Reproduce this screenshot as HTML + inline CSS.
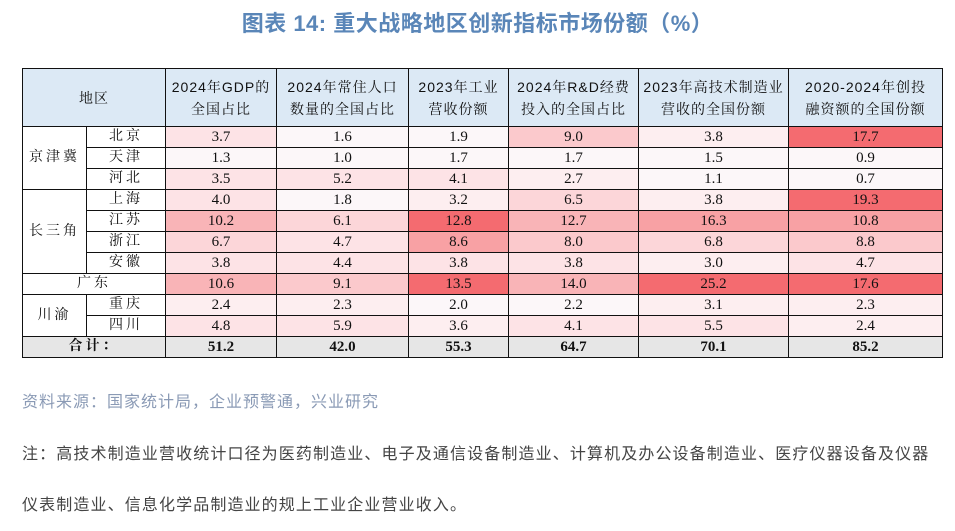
<!DOCTYPE html>
<html><head><meta charset="utf-8"><style>
body{margin:0;width:955px;height:531px;background:#fff;position:relative;overflow:hidden;font-family:"Liberation Sans","Noto Sans CJK SC",sans-serif}
.title{position:absolute;left:0;width:955px;top:6px;text-align:center;font-size:22px;font-weight:bold;color:#5a86b8;letter-spacing:0.5px}
table{position:absolute;left:22px;top:68px;border-collapse:collapse;table-layout:fixed;font-family:"Liberation Serif","Noto Serif CJK SC",serif;font-size:15px;color:#111}
td{border:1.5px solid #111;text-align:center;padding:0;height:20px;line-height:20px}
tr.h td{background:#dce9f5;height:57px;line-height:22px;font-size:14px;letter-spacing:1px;font-family:"Liberation Sans","Noto Serif CJK SC",serif}
tr.t td{background:#e6e6e6;font-weight:bold}
.W{background:#fcf7f9}.L1{background:#fdeef0}.L2{background:#fde3e6}.L3{background:#fcd6d9}.L4{background:#fbc9cc}.L5{background:#f9b4b7}.L6{background:#f8a1a4}.R{background:#f46b70}
.cn{font-size:14px;letter-spacing:3px;background:#fff}
.src{position:absolute;left:22px;top:388px;font-size:16px;letter-spacing:1px;color:#8a9ab5}
.note{position:absolute;left:22px;font-size:16px;letter-spacing:1.12px;color:#444;white-space:nowrap}
</style></head><body>
<div class="title">图表 14: 重大战略地区创新指标市场份额（%）</div>
<table>
<colgroup><col style="width:64px"><col style="width:79px"><col style="width:111px"><col style="width:132px"><col style="width:100px"><col style="width:130px"><col style="width:150px"><col style="width:154px"></colgroup>
<tr class="h"><td colspan="2">地区</td><td>2024年GDP的<br>全国占比</td><td>2024年常住人口<br>数量的全国占比</td><td>2023年工业<br>营收份额</td><td>2024年R&amp;D经费<br>投入的全国占比</td><td>2023年高技术制造业<br>营收的全国份额</td><td>2020-2024年创投<br>融资额的全国份额</td></tr>
<tr><td class="cn" rowspan="3">京津冀</td><td class="cn">北京</td><td class="L2">3.7</td><td class="W">1.6</td><td class="W">1.9</td><td class="L4">9.0</td><td class="L1">3.8</td><td class="R">17.7</td></tr>
<tr><td class="cn">天津</td><td class="W">1.3</td><td class="W">1.0</td><td class="W">1.7</td><td class="W">1.7</td><td class="W">1.5</td><td class="W">0.9</td></tr>
<tr><td class="cn">河北</td><td class="L2">3.5</td><td class="L2">5.2</td><td class="L2">4.1</td><td class="L1">2.7</td><td class="W">1.1</td><td class="W">0.7</td></tr>
<tr><td class="cn" rowspan="4">长三角</td><td class="cn">上海</td><td class="L2">4.0</td><td class="W">1.8</td><td class="L1">3.2</td><td class="L3">6.5</td><td class="L1">3.8</td><td class="R">19.3</td></tr>
<tr><td class="cn">江苏</td><td class="L5">10.2</td><td class="L3">6.1</td><td class="R">12.8</td><td class="L5">12.7</td><td class="L6">16.3</td><td class="L6">10.8</td></tr>
<tr><td class="cn">浙江</td><td class="L3">6.7</td><td class="L2">4.7</td><td class="L6">8.6</td><td class="L4">8.0</td><td class="L3">6.8</td><td class="L4">8.8</td></tr>
<tr><td class="cn">安徽</td><td class="L2">3.8</td><td class="L2">4.4</td><td class="L2">3.8</td><td class="L2">3.8</td><td class="L1">3.0</td><td class="L2">4.7</td></tr>
<tr><td class="cn" colspan="2">广东</td><td class="L5">10.6</td><td class="L4">9.1</td><td class="R">13.5</td><td class="L5">14.0</td><td class="R">25.2</td><td class="R">17.6</td></tr>
<tr><td class="cn" rowspan="2">川渝</td><td class="cn">重庆</td><td class="L1">2.4</td><td class="L1">2.3</td><td class="W">2.0</td><td class="W">2.2</td><td class="L1">3.1</td><td class="L1">2.3</td></tr>
<tr><td class="cn">四川</td><td class="L2">4.8</td><td class="L2">5.9</td><td class="L1">3.6</td><td class="L2">4.1</td><td class="L2">5.5</td><td class="L1">2.4</td></tr>
<tr class="t"><td colspan="2" style="font-size:14px;letter-spacing:3px">合计：</td><td>51.2</td><td>42.0</td><td>55.3</td><td>64.7</td><td>70.1</td><td>85.2</td></tr>
</table>
<div class="src">资料来源：国家统计局，企业预警通，兴业研究</div>
<div class="note" style="top:440px">注：高技术制造业营收统计口径为医药制造业、电子及通信设备制造业、计算机及办公设备制造业、医疗仪器设备及仪器</div>
<div class="note" style="top:491px">仪表制造业、信息化学品制造业的规上工业企业营业收入。</div>
</body></html>
